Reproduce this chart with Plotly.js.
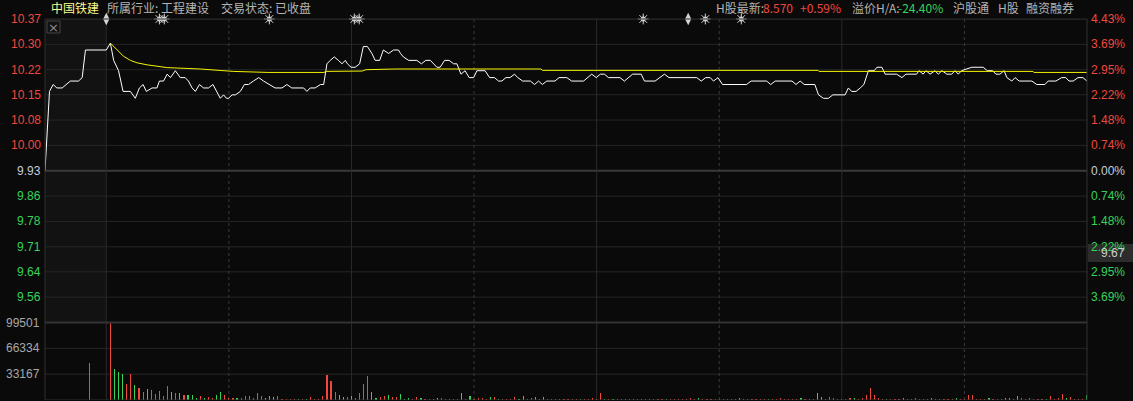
<!DOCTYPE html>
<html><head><meta charset="utf-8">
<script src="https://cdn.plot.ly/plotly-3.0.1.min.js"></script>
<style>html,body{margin:0;padding:0;background:#0a0a0a;overflow:hidden}#chart{width:1133px;height:401px}</style>
</head><body><div id="chart"></div>
<script>
// ---------- data ----------
const stockName = '中国铁建';
const prevClose = 9.93;
const pctTicks = [4.43, 3.69, 2.95, 2.22, 1.48, 0.74, 0, -0.74, -1.48, -2.22, -2.95, -3.69];
const priceTickLabels = ['10.37','10.30','10.22','10.15','10.08','10.00','9.93','9.86','9.78','9.71','9.64','9.56'];
const pctTickLabels = ['4.43%','3.69%','2.95%','2.22%','1.48%','0.74%','0.00%','0.74%','1.48%','2.22%','2.95%','3.69%'];
const volTicks = [99501, 66334, 33167];
const cursorPrice = '9.67';

// minutes from 09:30 (negative = call auction), price
const priceT = [-15,-13.9,-13.0,-12.1,-10.8,-8.8,-6.8,-5.9,-5.1,0,
 1.0,1.8,3.0,4.1,5.9,7.1,8.1,9.0,9.8,11.2,
 12.4,13.0,14.0,14.9,15.7,16.9,18.1,19.3,20.1,21.0,
 21.8,22.8,23.8,25.0,26.1,27.1,27.9,28.7,29.4,29.9,
 30.8,31.6,32.8,33.8,34.8,36.0,37.3,38.5,40.0,41.3,
 43.0,44.2,45.4,47.0,48.3,49.1,49.9,51.1,52.4,53.2,
 54.0,54.8,55.8,56.8,57.7,58.5,59.0,59.9,60.9,62.0,
 62.9,63.9,65.0,65.8,66.9,67.8,69.1,70.3,71.5,72.0,
 72.7,74.0,76.0,77.1,78.2,79.3,80.9,81.7,82.8,83.9,
 85.0,85.8,86.8,87.8,88.8,89.9,90.7,92.7,93.8,95.0,
 96.0,96.8,97.8,98.8,99.9,100.7,101.9,103.8,104.8,105.8,
 106.7,107.8,109.8,110.8,112.7,113.9,116.8,118.8,119.9,120.9,
 121.9,122.9,125.7,126.8,128.8,130.9,131.7,134.3,136.6,137.7,
 144.5,145.6,146.7,147.8,148.6,149.7,150.8,156.7,157.8,161.6,
 162.6,163.7,167.8,168.8,169.8,170.8,173.4,174.3,175.5,176.7,
 177.8,180.8,181.6,182.4,183.5,184.5,185.4,186.5,187.9,188.6,
 189.8,190.6,193.4,194.7,195.7,198.3,198.9,199.9,200.6,201.6,
 202.8,203.6,204.5,205.7,206.9,207.7,208.5,209.3,211.8,214.6,
 215.6,216.9,217.7,218.7,219.7,220.4,221.6,222.4,223.4,226.5,
 227.7,229.7,230.5,232.4,233.8,234.8,235.6,236.6,237.8,239.0,
 240];
const priceV = [9.93,10.16,10.18,10.17,10.17,10.19,10.19,10.20,10.28,10.28,
 10.30,10.25,10.22,10.16,10.16,10.14,10.17,10.18,10.16,10.17,
 10.17,10.19,10.19,10.21,10.20,10.22,10.20,10.20,10.19,10.17,
 10.16,10.18,10.17,10.17,10.18,10.16,10.14,10.15,10.14,10.14,
 10.15,10.15,10.16,10.18,10.18,10.19,10.20,10.19,10.18,10.17,
 10.17,10.18,10.17,10.17,10.17,10.16,10.17,10.17,10.18,10.18,
 10.24,10.25,10.26,10.25,10.24,10.25,10.24,10.23,10.23,10.24,
 10.29,10.29,10.27,10.25,10.25,10.28,10.27,10.28,10.28,10.27,
 10.26,10.25,10.25,10.24,10.25,10.25,10.23,10.23,10.25,10.25,
 10.24,10.24,10.21,10.22,10.20,10.20,10.22,10.22,10.20,10.20,
 10.19,10.19,10.20,10.20,10.21,10.20,10.19,10.19,10.18,10.19,
 10.18,10.19,10.19,10.20,10.20,10.19,10.19,10.21,10.20,10.21,
 10.21,10.20,10.20,10.19,10.21,10.21,10.19,10.19,10.21,10.20,
 10.20,10.19,10.20,10.20,10.19,10.20,10.18,10.18,10.19,10.19,
 10.18,10.19,10.19,10.18,10.19,10.18,10.18,10.15,10.14,10.14,
 10.15,10.15,10.17,10.16,10.16,10.17,10.18,10.22,10.22,10.23,
 10.23,10.21,10.21,10.20,10.21,10.21,10.22,10.21,10.22,10.21,
 10.22,10.21,10.22,10.21,10.21,10.22,10.21,10.22,10.23,10.23,
 10.22,10.22,10.21,10.21,10.22,10.20,10.19,10.20,10.19,10.19,
 10.18,10.18,10.19,10.19,10.20,10.20,10.19,10.19,10.20,10.20,
 10.19];

// average price line
const avgT = [1.0,2.6,4.2,5.9,7.5,10.0,12.8,14.9,23.0,27.9,31.1,39.6,53.3,53.8,62.6,63.6,70.7,106.4,106.7,174.2,174.4,226.8,227.0,240];
const avgV = [10.300,10.280,10.262,10.250,10.243,10.237,10.232,10.229,10.225,10.221,10.218,10.215,10.215,10.218,10.219,10.223,10.225,10.225,10.221,10.221,10.218,10.218,10.215,10.215];

// call-auction volume
const auctionVolT = -4.2;
const auctionVol = 47100;
// per-minute volume for minutes 1..240; dir 1 = up (red), -1 = down (green)
const volMain = [
 99501,39300,36100,33100,20000,33100,18700,15700,10900,14400,
 13100,7900,12200,5600,17400,10900,8600,9600,6000,6000,
 6900,2600,5600,2600,4300,2600,6900,9900,6500,2600,
 2600,2600,2600,5600,5600,2600,8600,5600,2600,5600,
 3400,5600,1700,1700,1700,1700,1700,1700,1700,4300,
 1700,1700,5600,31800,24400,9900,6900,4300,3400,5600,
 2600,8600,20000,30500,9900,2600,4300,5600,6900,4300,
 4300,7900,1300,2600,1300,4300,2600,1300,1300,1300,
 2600,2600,1300,1300,1300,1300,9500,1300,5600,1300,
 2600,2600,1300,4300,4300,1300,1300,1300,1300,4300,
 1300,5600,1300,2600,4300,1300,4300,1300,1300,1300,
 1300,1300,1300,1300,1300,1300,1300,1300,2600,1300,
 9500,1300,1300,1300,1300,1300,1300,1300,1300,1300,
 1300,1300,1300,1300,1300,1300,1300,1300,1300,1300,
 1300,1300,2600,1300,2600,1300,1300,1300,1300,1300,
 1300,1300,1300,1300,2600,1300,1300,1300,1300,1300,
 1300,1300,1300,1300,2600,1300,1300,1300,1300,2600,
 1300,1300,1300,9500,4300,1300,4300,2600,1300,1300,
 1300,2600,2600,1300,2600,6900,15600,6900,2600,1300,
 1300,1300,1300,1300,2600,1300,1300,2600,1300,1300,
 1300,2600,1300,1300,1300,1300,1300,2600,1300,1300,
 6900,6900,1300,1300,1300,2600,1300,1300,1300,2600,
 2600,1300,5600,2600,1300,2600,1300,1300,1300,1300,
 5600,1300,2600,8200,2600,4300,1300,1300,1300,6900];
const volDirMain = [
 1,-1,-1,-1,1,1,-1,1,1,-1,
 1,1,1,1,1,-1,1,-1,1,-1,
 -1,-1,1,-1,1,1,-1,-1,1,1,
 1,-1,1,1,1,1,1,1,-1,-1,
 -1,1,1,1,1,1,-1,1,-1,1,
 1,1,1,1,1,1,-1,-1,1,-1,
 1,1,1,1,-1,-1,1,1,-1,1,
 1,-1,-1,-1,1,1,-1,1,1,-1,
 -1,1,1,1,1,1,-1,1,-1,1,
 1,1,1,-1,1,-1,1,1,1,1,
 -1,-1,1,1,-1,1,-1,1,1,1,
 -1,1,1,1,1,-1,1,1,1,1,
 1,-1,1,-1,1,1,-1,1,1,1,
 -1,1,1,1,1,1,-1,1,1,1,
 1,1,1,1,-1,1,1,1,1,1,
 1,1,1,1,-1,1,1,1,1,1,
 1,-1,1,1,1,1,1,1,1,-1,
 1,1,1,-1,-1,1,1,1,1,1,
 1,1,-1,1,1,1,1,1,1,1,
 -1,1,1,1,-1,1,1,1,1,1,
 1,-1,1,-1,1,1,1,-1,1,1,
 1,1,1,1,1,-1,1,1,1,-1,
 -1,1,-1,1,1,1,1,1,1,-1,
 1,1,1,1,-1,1,1,1,1,-1];

// event markers along the top edge (minutes from 09:30)
const eventT = [13.0, 14.2, 39.9, 60.7, 61.9, 131.4, 146.6, 155.4];
const eventTallT = [0, 142.4];

// ---------- drawing ----------
const W = 1133, H = 401, L = 45, R = 46, T = 19, B = 1;
const plotW = W - L - R, plotH = H - T - B;
const px2x = p => (p - L) / plotW;
const py2y = p => 1 - (p - T) / plotH;
const RED = '#f0483e', GREEN = '#35d35a', GRID = '#262626', ICON = '#d4d4d4';
const yTop = prevClose * (1 + pctTicks[0] / 100);
const yBottom = prevClose * (1 - pctTicks[0] / 100);
const priceDomBottom = py2y(322.5);

const volT = [auctionVolT].concat(volMain.map((_, i) => i + 1));
const volV = [auctionVol].concat(volMain);
const volC = [RED].concat(volDirMain.map(d => d > 0 ? RED : GREEN));

const traces = [
  {x: priceT, y: priceV, type: 'scatter', mode: 'lines', line: {color: '#ffffff', width: 1}, xaxis: 'x', yaxis: 'y', hoverinfo: 'none'},
  {x: avgT, y: avgV, type: 'scatter', mode: 'lines', line: {color: '#f5f500', width: 1}, xaxis: 'x', yaxis: 'y', hoverinfo: 'none'},
  {x: volT, y: volV, type: 'bar', width: 0.28, marker: {color: volC, line: {width: 0}}, xaxis: 'x', yaxis: 'y2', hoverinfo: 'none'},
  {x: eventT, y: eventT.map(() => yTop), type: 'scatter', mode: 'markers', cliponaxis: false, marker: {symbol: 'circle', size: 5, color: ICON, line: {width: 0}}, xaxis: 'x', yaxis: 'y', hoverinfo: 'none'},
  {x: eventT, y: eventT.map(() => yTop), type: 'scatter', mode: 'markers', cliponaxis: false, marker: {symbol: 'asterisk-open', size: 9, color: ICON, line: {color: ICON, width: 1}}, xaxis: 'x', yaxis: 'y', hoverinfo: 'none'},
  {x: eventTallT, y: eventTallT.map(() => yTop), type: 'scatter', mode: 'markers', cliponaxis: false, marker: {symbol: 'diamond-tall', size: 9, color: ICON, line: {width: 0}}, xaxis: 'x', yaxis: 'y', hoverinfo: 'none'}
];

const shapes = [];
const annotations = [];
shapes.push({type: 'rect', xref: 'x', yref: 'paper', x0: -15, x1: 0, y0: priceDomBottom, y1: 1, fillcolor: '#121212', line: {width: 0}, layer: 'below'});
pctTicks.forEach((pct, i) => {
  const p = prevClose * (1 + pct / 100);
  const mid = pct === 0;
  shapes.push({type: 'line', xref: 'paper', yref: 'y', x0: 0, x1: 1, y0: p, y1: p, line: {color: mid ? '#3a3a3a' : GRID, width: mid ? 2 : 1}, layer: 'below'});
  const col = pct > 0 ? RED : (pct < 0 ? GREEN : '#c5cdd8');
  annotations.push({xref: 'paper', yref: 'y', x: 0, y: p, xanchor: 'right', yanchor: 'middle', xshift: -2, text: priceTickLabels[i], showarrow: false, font: {family: 'Liberation Sans, Arial', size: 12, color: col}});
  annotations.push({xref: 'paper', yref: 'y', x: 1, y: p, xanchor: 'left', yanchor: 'middle', xshift: 2, text: pctTickLabels[i], showarrow: false, font: {family: 'Liberation Sans, Arial', size: 12, color: col}});
});
shapes.push({type: 'line', xref: 'paper', yref: 'paper', x0: 0, x1: 1, y0: priceDomBottom, y1: priceDomBottom, line: {color: '#333333', width: 2}});
volTicks.forEach((v, i) => {
  if (i > 0) shapes.push({type: 'line', xref: 'paper', yref: 'y2', x0: 0, x1: 1, y0: v, y1: v, line: {color: GRID, width: 1}, layer: 'below'});
  annotations.push({xref: 'paper', yref: 'y2', x: 0, y: v, xanchor: 'right', yanchor: 'middle', xshift: -3, text: String(v), showarrow: false, font: {family: 'Liberation Sans, Arial', size: 12, color: '#a8a8a8'}});
});
shapes.push({type: 'line', xref: 'paper', yref: 'y2', x0: 0, x1: 1, y0: 0, y1: 0, line: {color: '#303030', width: 1}});
[0, 30, 60, 90, 120, 150, 180, 210].forEach(t => {
  const dotted = t % 60 === 30;
  shapes.push({type: 'line', xref: 'x', yref: 'paper', x0: t, x1: t, y0: 0, y1: 1, line: {color: dotted ? '#3a3a3a' : '#2a2a2a', width: 1, dash: dotted ? 'dot' : 'solid'}, layer: 'below'});
});
shapes.push({type: 'line', xref: 'paper', yref: 'paper', x0: 0, x1: 0, y0: 0, y1: 1, line: {color: '#2e2e2e', width: 1}});
shapes.push({type: 'line', xref: 'paper', yref: 'paper', x0: 1, x1: 1, y0: 0, y1: 1.0, line: {color: '#333333', width: 1}});
shapes.push({type: 'line', xref: 'paper', yref: 'paper', x0: 0, x1: 1, y0: 1, y1: 1, line: {color: '#2a2a2a', width: 1}});

shapes.push({type: 'rect', xref: 'paper', yref: 'paper', x0: px2x(47), x1: px2x(60), y0: py2y(33), y1: py2y(21), line: {color: '#454545', width: 1}, fillcolor: 'rgba(0,0,0,0)'});
annotations.push({xref: 'paper', yref: 'paper', x: px2x(53.5), y: py2y(27), text: '×', showarrow: false, font: {family: 'DejaVu Sans', size: 13, color: '#8a8a8a'}, xanchor: 'center', yanchor: 'middle'});

shapes.push({type: 'rect', xref: 'paper', yref: 'paper', x0: px2x(1088), x1: px2x(1133), y0: py2y(262), y1: py2y(244), fillcolor: '#2c2c2c', line: {width: 0}});
annotations.push({xref: 'paper', yref: 'paper', x: px2x(1127), y: py2y(253), xanchor: 'right', yanchor: 'middle', text: cursorPrice, showarrow: false, font: {family: 'Liberation Sans, Arial', size: 12, color: '#cfcfcf'}});

const hy = py2y(8);
const CJK = 'Noto Sans CJK SC, Liberation Sans';
function hdr(px, text, color) {
  annotations.push({xref: 'paper', yref: 'paper', x: px2x(px), y: hy, xanchor: 'left', yanchor: 'middle', text: text, showarrow: false, font: {family: CJK, size: 12, color: color}});
}
hdr(49, stockName, '#fcfc8c');
hdr(105, '所属行业: 工程建设', '#b4b4b4');
hdr(219, '交易状态: 已收盘', '#b4b4b4');
hdr(714, 'H股最新:', '#b4b4b4');
hdr(761, '8.570', RED);
hdr(798, '+0.59%', RED);
hdr(850, '溢价H/A:', '#b4b4b4');
hdr(896, '-24.40%', GREEN);
hdr(951, '沪股通', '#b4b4b4');
hdr(996, 'H股', '#b4b4b4');
hdr(1024, '融资融券', '#b4b4b4');

const layout = {
  width: W, height: H,
  margin: {l: L, r: R, t: T, b: B, pad: 0},
  paper_bgcolor: '#0a0a0a', plot_bgcolor: '#0a0a0a',
  showlegend: false,
  xaxis: {range: [-15, 240], showgrid: false, zeroline: false, showticklabels: false, ticks: '', fixedrange: true},
  yaxis: {domain: [priceDomBottom, 1], range: [yBottom, yTop], showgrid: false, zeroline: false, showticklabels: false, ticks: ''},
  yaxis2: {domain: [0, priceDomBottom], range: [0, volTicks[0]], showgrid: false, zeroline: false, showticklabels: false, ticks: ''},
  bargap: 0,
  shapes: shapes,
  annotations: annotations
};
Plotly.newPlot('chart', traces, layout, {staticPlot: true, displayModeBar: false});
</script></body></html>
